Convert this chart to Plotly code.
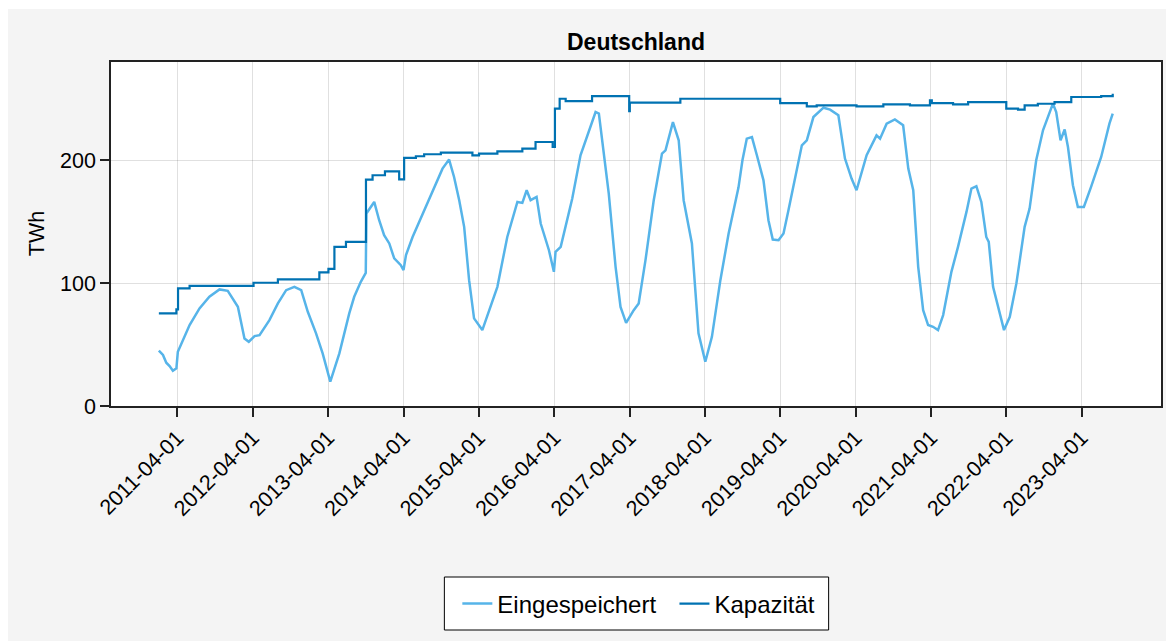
import plotly.graph_objects as go

# ---- data ----
stored_dates = ["2011-01-01","2011-01-21","2011-02-06","2011-02-22","2011-03-10","2011-03-27","2011-04-03","2011-04-28","2011-05-30","2011-07-17",
"2011-09-03","2011-10-22","2011-12-01","2012-01-19","2012-02-20","2012-03-12","2012-04-09","2012-05-03","2012-06-20","2012-07-31",
"2012-09-09","2012-10-19","2012-11-21","2012-12-23","2013-02-01","2013-03-05","2013-04-11","2013-05-25","2013-07-12","2013-08-05",
"2013-09-06","2013-09-30","2013-10-03","2013-11-10","2013-12-04","2013-12-28","2014-01-22","2014-02-15","2014-03-19","2014-04-01",
"2014-04-13","2014-05-15","2014-06-24","2014-07-26","2014-08-28","2014-10-07","2014-11-08","2014-12-02","2014-12-27","2015-01-20",
"2015-02-13","2015-03-09","2015-04-18","2015-05-29","2015-06-30","2015-08-17","2015-10-05","2015-10-29","2015-11-19","2015-12-08",
"2016-01-06","2016-01-26","2016-02-11","2016-03-06","2016-03-30","2016-04-07","2016-05-02","2016-05-26","2016-06-27","2016-08-06",
"2016-09-07","2016-10-18","2016-11-03","2016-11-19","2016-12-21","2017-01-23","2017-02-16","2017-03-15","2017-04-21","2017-05-15",
"2017-06-17","2017-07-27","2017-09-05","2017-09-22","2017-10-28","2017-11-25","2017-12-19","2018-01-28","2018-03-01","2018-04-03",
"2018-05-05","2018-06-15","2018-07-25","2018-09-11","2018-09-30","2018-10-21","2018-11-15","2018-12-09","2019-01-10","2019-02-03",
"2019-02-24","2019-03-24","2019-04-17","2019-05-11","2019-06-13","2019-07-15","2019-08-08","2019-09-09","2019-10-28","2019-11-29",
"2020-01-08","2020-02-09","2020-03-12","2020-04-05","2020-05-24","2020-07-11","2020-07-28","2020-08-29","2020-10-08","2020-11-17",
"2020-12-12","2021-01-05","2021-01-29","2021-02-22","2021-03-18","2021-04-11","2021-05-05","2021-05-30","2021-07-09","2021-08-10",
"2021-09-20","2021-10-14","2021-11-07","2021-12-01","2021-12-25","2022-01-06","2022-01-27","2022-02-28","2022-03-21","2022-04-18",
"2022-05-20","2022-06-29","2022-07-23","2022-08-24","2022-09-26","2022-11-13","2022-11-29","2022-12-20","2023-01-09","2023-01-25",
"2023-02-18","2023-03-14","2023-04-12","2023-05-17","2023-07-05","2023-08-14","2023-08-30"]

stored_twh = [45.0,41.5,35.2,32.5,28.7,30.6,44.1,53.7,65.9,79.4,
88.9,94.9,93.7,80.7,55.0,52.3,56.9,57.7,69.9,83.5,
94.3,97.0,94.3,76.7,59.1,42.8,19.8,42.8,75.4,88.9,
101.1,108.4,156.7,166.1,151.2,139.0,132.3,120.1,114.6,110.6,
122.8,137.6,152.6,164.8,178.3,193.2,200.6,186.4,167.5,145.8,
102.4,71.3,61.8,80.7,97.0,137.6,166.1,165.3,175.6,167.5,
170.2,148.5,140.4,126.8,109.2,125.4,129.5,147.2,168.9,204.1,
220.3,239.3,238.0,216.3,172.9,113.3,80.7,67.7,78.0,83.5,
118.7,167.5,205.4,208.1,231.1,216.3,167.5,132.3,59.1,36.0,
56.3,102.4,140.4,178.0,200.0,217.6,218.9,204.1,183.7,151.2,
135.5,135.0,140.4,159.3,186.4,212.2,216.3,235.2,242.8,241.2,
236.6,201.4,185.1,175.6,204.1,220.3,217.6,229.8,233.3,228.5,
193.2,175.6,113.3,78.0,65.9,64.5,61.8,74.0,109.2,129.5,
158.0,177.0,178.9,166.1,137.6,133.6,97.0,75.4,61.8,72.6,
99.8,145.8,160.7,200.0,224.4,246.1,239.3,216.3,225.0,210.8,
179.7,162.0,162.0,178.3,202.7,229.8,238.0]

capacity_dates = ["2011-01-01","2011-03-27","2011-04-04","2011-05-30","2012-04-04","2012-07-31","2013-02-17","2013-04-02",
"2013-05-01","2013-06-26","2013-10-01","2013-11-02","2014-01-01","2014-03-11","2014-04-04","2014-05-31",
"2014-07-10","2014-09-29","2015-03-01","2015-04-02","2015-06-30","2015-10-29","2016-01-01","2016-03-24",
"2016-04-04","2016-04-27","2016-05-26","2016-10-01","2017-03-30","2017-04-02","2017-12-03","2019-04-01",
"2019-08-08","2019-09-25","2020-04-05","2020-08-13","2020-12-20","2021-03-27","2021-04-05","2021-07-17",
"2021-09-28","2022-04-01","2022-05-28","2022-06-29","2022-09-01","2022-11-21","2023-02-10","2023-07-05",
"2023-08-30"]

capacity_twh = [75.4,78.6,95.7,97.8,100.3,103.0,108.7,111.6,
129.5,133.6,184.3,187.8,191.0,184.5,201.9,203.3,
204.9,206.2,204.0,205.4,207.3,209.5,214.9,210.8,
242.0,250.1,248.2,252.3,240.0,246.9,250.1,246.6,
243.9,244.7,243.9,245.5,244.7,248.8,246.6,245.5,
247.4,242.0,241.2,244.7,246.0,247.4,251.5,252.3,
254.2]

series_names = ["Eingespeichert", "Kapazität"]
x_ticks = ["2011-04-01","2012-04-01","2013-04-01","2014-04-01","2015-04-01","2016-04-01","2017-04-01",
           "2018-04-01","2019-04-01","2020-04-01","2021-04-01","2022-04-01","2023-04-01"]
y_ticks = [0, 100, 200]
x_range = ["2010-05-14", "2024-04-20"]
y_range = [0, 280]

if len(stored_dates) != len(stored_twh) or len(capacity_dates) != len(capacity_twh):
    raise SystemExit("length mismatch")

FONT = "Liberation Sans, Arial, sans-serif"

fig = go.Figure()
fig.add_trace(go.Scatter(x=stored_dates, y=stored_twh, mode="lines", name=series_names[0] + "\u00a0\u00a0",
                         line=dict(color="#56B4E9", width=2.5)))
fig.add_trace(go.Scatter(x=capacity_dates, y=capacity_twh, mode="lines", name=series_names[1],
                         line=dict(color="#0072B2", width=2.2, shape="hv")))

W, H = 1158, 632
L, R, T, B = 103, 3, 53, 235
plot_w = W - L - R
plot_h = H - T - B

# helpers to convert page pixel positions (reference image) into paper coords
def px_x(px):
    return (px - 8 - L) / plot_w

def px_y(py):
    return (H - B + 9 - py) / plot_h

fig.update_layout(
    width=W, height=H,
    margin=dict(l=L, r=R, t=T, b=B, pad=0),
    paper_bgcolor="#f4f4f4", plot_bgcolor="white",
    font=dict(family=FONT, size=21, color="black"),
    title=dict(text="<b>Deutschland</b>", x=0.5, xref="paper", xanchor="center",
               y=1 - 33 / H, yref="container", yanchor="middle",
               font=dict(family=FONT, size=23, color="black")),
    showlegend=True,
    legend=dict(orientation="h", x=px_x(458), xanchor="left", xref="paper",
                y=px_y(604), yanchor="middle", yref="paper",
                bgcolor="rgba(0,0,0,0)", borderwidth=0,
                font=dict(family=FONT, size=24), itemwidth=30),
    shapes=[dict(type="rect", xref="paper", yref="paper",
                 x0=px_x(445), x1=px_x(830), y0=px_y(630), y1=px_y(577),
                 fillcolor="white", line=dict(color="black", width=1), layer="above")],
    xaxis=dict(type="date", range=x_range, tickmode="array", tickvals=x_ticks, ticktext=x_ticks,
               tickangle=-45, ticks="outside", ticklen=9, tickwidth=1.5, tickcolor="#222",
               showline=True, linecolor="#222", linewidth=1.5, mirror=True,
               showgrid=True, gridcolor="rgba(0,0,0,0.12)", gridwidth=1, zeroline=False,
               tickfont=dict(family=FONT, size=21.5)),
    yaxis=dict(range=y_range, tickmode="array", tickvals=y_ticks,
               ticks="outside", ticklen=9, tickwidth=1.5, tickcolor="#222",
               showline=True, linecolor="#222", linewidth=1.5, mirror=True,
               showgrid=True, gridcolor="rgba(0,0,0,0.12)", gridwidth=1, zeroline=False,
               tickfont=dict(family=FONT, size=21.5)),
    annotations=[dict(text="TWh", textangle=-90, xref="paper", yref="paper",
                      x=px_x(37), y=0.5, xanchor="center", yanchor="middle",
                      showarrow=False, font=dict(family=FONT, size=21.5))],
)

fig.write_html("out.html", config={"displayModeBar": False},
               post_script="document.body.style.margin='9px 0 0 8px';"
                           "document.body.style.overflow='hidden';"
                           "document.documentElement.style.overflow='hidden';")
